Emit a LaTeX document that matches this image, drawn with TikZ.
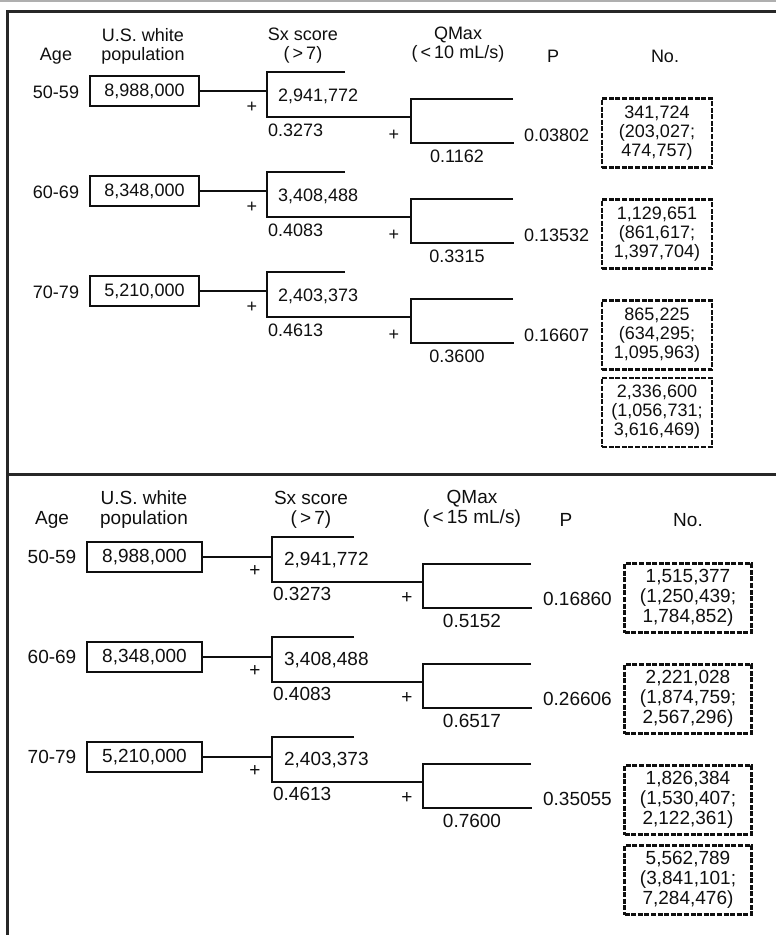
\documentclass[tikz,border=0pt]{standalone}
\usepackage{fontspec}
\setmainfont{Liberation Sans}
\usetikzlibrary{positioning}
\definecolor{fg}{RGB}{15,15,15}
\definecolor{rule}{RGB}{40,40,40}
\definecolor{hair}{RGB}{175,175,175}
\tikzset{
  every picture/.style={fg, line width=2.2pt, line cap=butt, line join=miter},
  every node/.style={font=\fontsize{18}{19}\selectfont, inner sep=0pt},
  big/.style={font=\fontsize{19}{20}\selectfont},
  % Linien
  arm/.style={line width=2.3pt},
  frame/.style={rule, line width=3pt},
  hairline/.style={hair, line width=1.2pt},
  % Kaesten
  popbox/.style={draw, line width=2.3pt, minimum width=#1, minimum height=30pt},
  popbox/.default=109pt,
  nobox/.style={draw, line width=2.3pt, dash pattern=on 5pt off 1.6pt,
    minimum width=#1, minimum height=69pt, align=center},
  nobox/.default=110pt,
  head/.style={align=center},
}

\begin{document}
\begin{tikzpicture}[x=1pt, y=-1pt]
  \useasboundingbox (0,0) rectangle (776,935);
  % Rahmen
  \draw[hairline] (0,1) -- (776,1);
  \draw[frame] (776,11) -- (7,11) -- (7,935);
  \draw[frame] (7,474) -- (776,474);

  % oberer Teil: QMax < 10 mL/s
  \node (aAge) at (56,56) {Age};
  \node[head] (aPop) at (143,46) {U.S. white\\population};
  \node[head] (aSx) at (303,46) {Sx score\\(\,>\,7)};
  \node[head] (aQm) at (458,45) {QMax\\(\,<\,10 mL/s)};
  \node (aP) at (553,56) {P};
  \node (aNo) at (665,56) {No.};
  \foreach \i/\age/\pop/\sx/\psx/\pqm/\pp/\nval/\nlo/\nhi in {
      0/50-59/{8,988,000}/{2,941,772}/0.3273/0.1162/0.03802/{341,724}/{203,027}/{474,757},
      1/60-69/{8,348,000}/{3,408,488}/0.4083/0.3315/0.13532/{1,129,651}/{861,617}/{1,397,704},
      2/70-79/{5,210,000}/{2,403,373}/0.4613/0.3600/0.16607/{865,225}/{634,295}/{1,095,963}} {
    \begin{scope}[shift={(0,100*\i)}]
      \node (aage\i) at (56,92) {\age};
      \node[popbox] (apop\i) at (144.5,91) {\pop};
      % Verzweigung Sx score
      \coordinate (asx\i) at (267,91);
      \coordinate (asxA\i) at (267,72);  \coordinate (asxT\i) at (345,72);
      \coordinate (asxB\i) at (267,117); \coordinate (aqm\i) at (411,117);
      \draw[arm] (apop\i.east) -- (asx\i);
      \draw[arm] (asxT\i) -- (asxA\i) -- (asxB\i) -- (aqm\i);
      \node[anchor=west] (asxn\i) at (277,96) {\sx};
      \node (asxp\i) at (252,107) {+};
      \node[anchor=west] (asxq\i) at (267,130) {\psx};
      % Verzweigung QMax
      \coordinate (aqmA\i) at (411,99);  \coordinate (aqmT\i) at (513,99);
      \coordinate (aqmB\i) at (411,143); \coordinate (aqmE\i) at (514,143);
      \draw[arm] (aqmT\i) -- (aqmA\i) -- (aqmB\i) -- (aqmE\i);
      \node (aqmp\i) at (394,135) {+};
      \node (aqmq\i) at (457,156) {\pqm};
      \node[anchor=west] (ap\i) at (523,135) {\pp};
      \node[nobox] (ano\i) at (657,133+\i) {\nval\\(\nlo;\\\nhi)};
    \end{scope}
  }
  \node[nobox] (asum) at (657,412.5) {2,336,600\\(1,056,731;\\3,616,469)};

  % unterer Teil: QMax < 15 mL/s
  \node[big] (bAge) at (52,520) {Age};
  \node[big, head] (bPop) at (144,510) {U.S. white\\population};
  \node[big, head] (bSx) at (311,510) {Sx score\\(\,>\,7)};
  \node[big, head] (bQm) at (472,509) {QMax\\(\,<\,15 mL/s)};
  \node[big] (bP) at (566,520) {P};
  \node[big] (bNo) at (688,520) {No.};
  \foreach \i/\age/\pop/\sx/\psx/\pqm/\pp/\nval/\nlo/\nhi in {
      0/50-59/{8,988,000}/{2,941,772}/0.3273/0.5152/0.16860/{1,515,377}/{1,250,439}/{1,784,852},
      1/60-69/{8,348,000}/{3,408,488}/0.4083/0.6517/0.26606/{2,221,028}/{1,874,759}/{2,567,296},
      2/70-79/{5,210,000}/{2,403,373}/0.4613/0.7600/0.35055/{1,826,384}/{1,530,407}/{2,122,361}} {
    \begin{scope}[shift={(0,100*\i)}]
      \node[big] (bage\i) at (52,557) {\age};
      \node[big, popbox=115pt] (bpop\i) at (144.5,557) {\pop};
      % Verzweigung Sx score
      \coordinate (bsx\i) at (272,557);
      \coordinate (bsxA\i) at (272,537); \coordinate (bsxT\i) at (354,537);
      \coordinate (bsxB\i) at (272,582); \coordinate (bqm\i) at (423,582);
      \draw[arm] (bpop\i.east) -- (bsx\i);
      \draw[arm] (bsxT\i) -- (bsxA\i) -- (bsxB\i) -- (bqm\i);
      \node[big, anchor=west] (bsxn\i) at (283,560) {\sx};
      \node[big] (bsxp\i) at (255,571) {+};
      \node[big, anchor=west] (bsxq\i) at (272,594) {\psx};
      % Verzweigung QMax
      \coordinate (bqmA\i) at (423,564); \coordinate (bqmT\i) at (531,564);
      \coordinate (bqmB\i) at (423,608); \coordinate (bqmE\i) at (532,608);
      \draw[arm] (bqmT\i) -- (bqmA\i) -- (bqmB\i) -- (bqmE\i);
      \node[big] (bqmp\i) at (407,598) {+};
      \node[big] (bqmq\i) at (472,621) {\pqm};
      \node[big, anchor=west] (bp\i) at (542,599) {\pp};
      \node[big, nobox=127pt] (bno\i) at (688,598+\i) {\nval\\(\nlo;\\\nhi)};
    \end{scope}
  }
  \node[big, nobox=127pt] (bsum) at (688,880) {5,562,789\\(3,841,101;\\7,284,476)};
\end{tikzpicture}
\end{document}
